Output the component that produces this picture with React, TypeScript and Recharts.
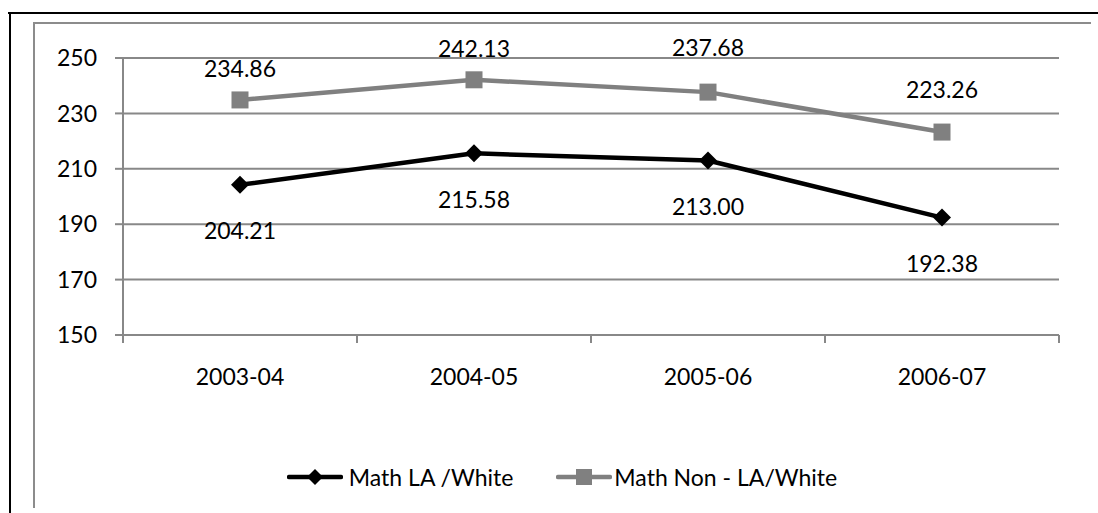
import React from 'react';
import { LineChart, Line, XAxis, YAxis, CartesianGrid, LabelList } from 'recharts';

// School years on the horizontal axis
const years = ['2003-04', '2004-05', '2005-06', '2006-07'];
// Average math scores per series
const mathLA = [204.21, 215.58, 213.0, 192.38];
const mathNonLA = [234.86, 242.13, 237.68, 223.26];
const seriesNames = ['Math LA /White', 'Math Non - LA/White'];
const yTicks = [150, 170, 190, 210, 230, 250];

// Each year sits in the middle of its slot; slot edges carry the tick marks
const data = years.map((year, i) => ({ slot: i + 0.5, year, la: mathLA[i], nonLa: mathNonLA[i] }));
const xTicks = [0, 0.5, 1, 1.5, 2, 2.5, 3, 3.5, 4];

const FONT = 'Lato, "Open Sans", sans-serif';
const FS = 23;
const GRID = '#888888';
const BLACK = '#000000';
const GRAY = '#808080';

// Label gap (px) between each point and its value label
const laLabelGap = [46, 46, 46, 46];
const nonLaLabelGap = [31, 31, 44, 42];

const XTick = (props: any) => {
  const { x, y, payload } = props;
  const v = payload.value as number;
  if (Number.isInteger(v)) {
    return <line x1={x} x2={x} y1={y} y2={y + 8} stroke={GRID} strokeWidth={2} />;
  }
  return (
    <text x={x} y={y + 50} textAnchor="middle" fontFamily={FONT} fontSize={FS} fill={BLACK}>
      {years[Math.floor(v)]}
    </text>
  );
};

const Diamond = (p: any) => {
  const { cx, cy } = p;
  const r = 9;
  return (
    <polygon
      key={`d-${p.index}`}
      points={`${cx},${cy - r} ${cx + r},${cy} ${cx},${cy + r} ${cx - r},${cy}`}
      fill={BLACK}
    />
  );
};

const Square = (p: any) => {
  const { cx, cy } = p;
  const s = 17;
  return <rect key={`s-${p.index}`} x={cx - s / 2} y={cy - s / 2} width={s} height={s} fill={GRAY} />;
};

const makeLabel = (gaps: number[], dir: 1 | -1) => (p: any) => (
  <text
    key={`l-${p.index}`}
    x={p.x}
    y={p.y + dir * gaps[p.index]}
    dy="0.36em"
    textAnchor="middle"
    fontFamily={FONT}
    fontSize={FS}
    fill={BLACK}
  >
    {Number(p.value).toFixed(2)}
  </text>
);

const LegendKey = ({ color, shape }: { color: string; shape: 'diamond' | 'square' }) => (
  <svg width={56} height={20} style={{ display: 'block' }}>
    <line x1={2} x2={54} y1={10} y2={10} stroke={color} strokeWidth={4.5} strokeLinecap="round" />
    {shape === 'diamond' ? (
      <polygon points="28,2 36,10 28,18 20,10" fill={color} />
    ) : (
      <rect x={20} y={2} width={16} height={16} fill={color} />
    )}
  </svg>
);

export default function App() {
  return (
    <div style={{ position: 'absolute', left: 0, top: 0, width: 1098, height: 513, overflow: 'hidden', background: '#fff' }}>
      {/* outer black frame */}
      <div style={{ position: 'absolute', left: 8, top: 12, width: 1090, height: 2, background: BLACK }} />
      <div style={{ position: 'absolute', left: 8.5, top: 12, width: 2.5, height: 501, background: BLACK }} />
      {/* inner gray chart border */}
      <div style={{ position: 'absolute', left: 33, top: 22, width: 1058, height: 2, background: '#8c8c8c' }} />
      <div style={{ position: 'absolute', left: 33, top: 22, width: 2, height: 486, background: '#8c8c8c' }} />

      <div style={{ position: 'absolute', left: 0, top: 0 }}>
        <LineChart width={1098} height={513} data={data} margin={{ top: 58, right: 39, bottom: 128, left: 0 }}>
          <CartesianGrid horizontal vertical={false} stroke={GRID} strokeWidth={2} />
          <XAxis
            dataKey="slot"
            type="number"
            domain={[0, 4]}
            ticks={xTicks}
            interval={0}
            height={50}
            axisLine={{ stroke: GRID, strokeWidth: 2 }}
            tickLine={false}
            tickSize={0}
            tickMargin={0}
            tick={<XTick />}
          />
          <YAxis
            type="number"
            domain={[150, 250]}
            ticks={yTicks}
            interval={0}
            width={123}
            axisLine={{ stroke: GRID, strokeWidth: 2 }}
            tickLine={{ stroke: GRID, strokeWidth: 2 }}
            tickSize={8}
            tickMargin={18}
            tick={{ fill: BLACK, fontSize: FS, fontFamily: FONT }}
          />
          <Line
            dataKey="la"
            name={seriesNames[0]}
            stroke={BLACK}
            strokeWidth={4.5}
            strokeLinejoin="round"
            dot={Diamond}
            activeDot={false}
            isAnimationActive={false}
          >
            <LabelList dataKey="la" content={makeLabel(laLabelGap, 1)} />
          </Line>
          <Line
            dataKey="nonLa"
            name={seriesNames[1]}
            stroke={GRAY}
            strokeWidth={4.5}
            strokeLinejoin="round"
            dot={Square}
            activeDot={false}
            isAnimationActive={false}
          >
            <LabelList dataKey="nonLa" content={makeLabel(nonLaLabelGap, -1)} />
          </Line>
        </LineChart>
      </div>

      {/* legend */}
      <div
        style={{
          position: 'absolute',
          left: 33,
          width: 1058,
          top: 462,
          height: 30,
          display: 'flex',
          justifyContent: 'center',
          alignItems: 'center',
          gap: 43,
          fontFamily: FONT,
          fontSize: FS,
          color: BLACK,
        }}
      >
        <div style={{ display: 'flex', alignItems: 'center' }}>
          <LegendKey color={BLACK} shape="diamond" />
          <span style={{ marginLeft: 6, lineHeight: '30px' }}>{seriesNames[0]}</span>
        </div>
        <div style={{ display: 'flex', alignItems: 'center' }}>
          <LegendKey color={GRAY} shape="square" />
          <span style={{ marginLeft: 2, lineHeight: '30px' }}>{seriesNames[1]}</span>
        </div>
      </div>
    </div>
  );
}
